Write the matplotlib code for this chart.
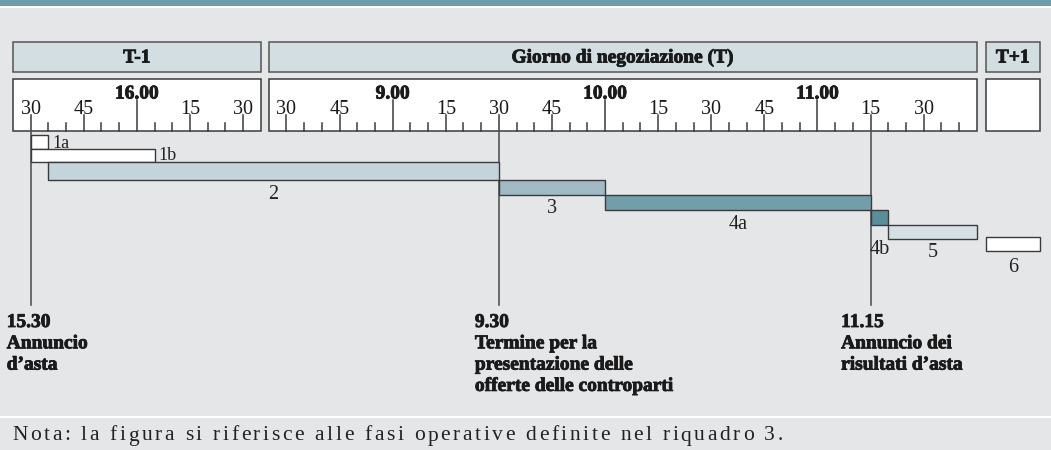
import matplotlib
matplotlib.use("Agg")
import matplotlib.pyplot as plt
import matplotlib.patheffects as pe
from matplotlib.patches import Rectangle
from matplotlib.font_manager import FontProperties, findfont, get_font

plt.rcParams['font.family'] = ['Liberation Serif', 'DejaVu Serif']

# days shown on the time line and their visible windows
days = ["T-1", "T", "T+1"]
day_titles = ["T-1", "Giorno di negoziazione (T)", "T+1"]
day_start = ["15:25", "8:25", None]
day_end = ["16:35", "11:45", None]

# operational phases
phases = ["1a", "1b", "2", "3", "4a", "4b", "5", "6"]
phase_start_day = ["T-1", "T-1", "T-1", "T", "T", "T", "T", "T+1"]
phase_start = ["15:30", "15:30", "15:35", "9:30", "10:00", "11:15", "11:20", None]
phase_end_day = ["T-1", "T-1", "T", "T", "T", "T", "T", "T+1"]
phase_end = ["15:35", "16:05", "9:30", "10:00", "11:15", "11:20", "11:45", None]
phase_colors = ["white", "white", "#c4d4db", "#a1bac5", "#729eab", "#5b8e9b", "#d5e0e5", "white"]

# key moments
milestone_day = ["T-1", "T", "T"]
milestone_time = ["15:30", "9:30", "11:15"]
milestone_text = [["Annuncio", "d\u2019asta"],
                  ["Termine per la", "presentazione delle", "offerte delle controparti"],
                  ["Annuncio dei", "risultati d\u2019asta"]]

note = "Nota: la figura si riferisce alle fasi operative definite nel riquadro 3."

# layout (pixels for y, minutes for x)
PX = 3.54            # pixels per minute
X0 = 13              # left edge of first box in pixels
gaps = [8 / PX, 9 / PX]
tplus1_width = 54 / PX

bg = "#e5e6e8"
edge = "#3a3a3a"
ink = "#1a1a1a"

# rows of the bars: top, bottom, label baseline
row_top = [135, 149.3, 161.7, 179.7, 194.7, 209.7, 224.5, 236.7]
row_bot = [149.3, 161.7, 179.7, 194.7, 209.7, 224.5, 239.3, 251.5]
label_y = [148.3, 160, 199, 212.7, 229, 254, 257.3, 271.7]
label_side = [True, True, False, False, False, False, False, False]
milestone_dx = [-24, -24, -29.5]


def to_min(s):
    h, m = s.split(":")
    return int(h) * 60 + int(m)


# day box lefts/widths in minutes
day_left = []
day_width = []
cur = 0
for i, d in enumerate(days):
    if day_start[i] is not None:
        w = to_min(day_end[i]) - to_min(day_start[i])
    else:
        w = tplus1_width
    day_left.append(cur)
    day_width.append(w)
    if i < len(gaps):
        cur += w + gaps[i]


def xpos(day, t, end=False):
    i = days.index(day)
    if t is None:
        return day_left[i] + (day_width[i] if end else 0)
    return day_left[i] + to_min(t) - to_min(day_start[i])


fig = plt.figure(figsize=(10.51, 4.5), dpi=100, facecolor=bg)
ax = fig.add_axes([0, 0, 1, 1])
ax.set_xlim(-X0 / PX, (1051 - X0) / PX)
ax.set_ylim(450, 0)
ax.axis("off")
ax.set_facecolor(bg)

# top band and separators
ax.axhspan(0, 5.5, color="#6f9cab", lw=0)
ax.axhspan(5.5, 8, color="white", lw=0)
ax.axhspan(415.8, 418.3, color="white", lw=0)

thick = [pe.withStroke(linewidth=0.6, foreground=ink)]
bold = dict(fontweight="bold", fontsize=14, color=ink, path_effects=thick)

# header boxes and scale boxes
for i, d in enumerate(days):
    ax.add_patch(Rectangle((day_left[i], 41.7), day_width[i], 30, facecolor="#d3dee3",
                           edgecolor="#555555", lw=1.1))
    ax.text(day_left[i] + day_width[i] / 2, 62.5, day_titles[i], ha="center", va="baseline",
            **bold)
    ax.add_patch(Rectangle((day_left[i], 79.3), day_width[i], 51.7, facecolor="white",
                           edgecolor=edge, lw=1.1))
    if day_start[i] is None:
        continue
    m0 = to_min(day_start[i])
    m1 = to_min(day_end[i])
    for m in range(m0 + 5, m1, 5):
        x = xpos(d, None) + m - m0
        if m % 60 == 0:
            top = 100
            ax.text(x, 98.5, "%d.00" % (m // 60), ha="center", va="baseline", **bold)
        elif m % 15 == 0:
            top = 115
            ax.text(x, 113.5, "%02d" % (m % 60), ha="center", va="baseline",
                    fontsize=14.5, color=ink)
        else:
            top = 123.3
        ax.plot([x, x], [131, top], color=edge, lw=1.1)

# phase bars
for i, p in enumerate(phases):
    x1 = xpos(phase_start_day[i], phase_start[i])
    x2 = xpos(phase_end_day[i], phase_end[i], end=True)
    ax.barh((row_top[i] + row_bot[i]) / 2, x2 - x1, left=x1, height=row_bot[i] - row_top[i],
            color=phase_colors[i], edgecolor=edge, lw=1.0, zorder=3)
    if label_side[i]:
        ax.text(x2 + 4 / PX, label_y[i], p, ha="left", va="baseline", fontsize=13,
                color="#222222")
    else:
        ax.text((x1 + x2) / 2, label_y[i], p, ha="center", va="baseline", fontsize=14.5,
                color="#222222")

# milestone lines and texts
for i, d in enumerate(milestone_day):
    x = xpos(d, milestone_time[i])
    ax.plot([x, x], [131, 305], color="#555555", lw=1.2, zorder=2)
    lines = [milestone_time[i].replace(":", ".")] + milestone_text[i]
    for k, line in enumerate(lines):
        ax.text(x + milestone_dx[i] / PX, 327 + k * 21.3, line, ha="left", va="baseline",
                **bold)

# note, letter spaced: place glyphs using their advances
note_size = 15.5
prop = FontProperties(family="Liberation Serif", size=note_size)
font = get_font(findfont(prop))
font.set_size(note_size, 100)
adv = [font.load_char(ord(ch)).linearHoriAdvance / 65536 for ch in note]
target = 783 - 12
spacing = (target - sum(adv)) / (len(note) - 1)
pos = 12
for k, ch in enumerate(note):
    ax.text((pos - X0) / PX, 440.5, ch, ha="left", va="baseline", fontproperties=prop,
            color="#222222")
    pos += adv[k] + spacing

fig.savefig("out.png", dpi=100, facecolor=bg)
